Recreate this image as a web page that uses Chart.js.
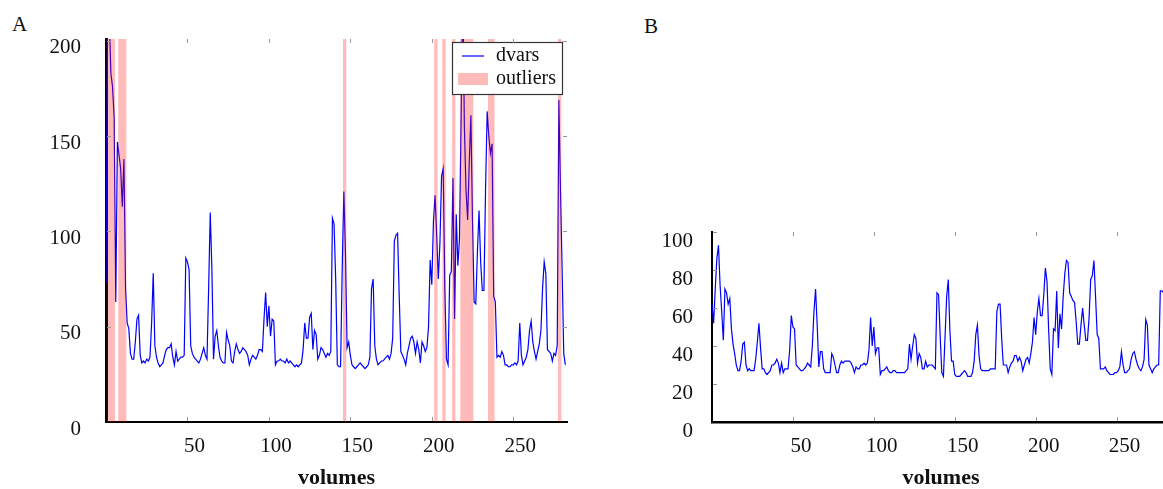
<!DOCTYPE html>
<html>
<head>
<meta charset="utf-8">
<script src="https://cdn.jsdelivr.net/npm/chart.js@4.4.1/dist/chart.umd.min.js"></script>
<style>
  html, body { margin: 0; padding: 0; background: #fff; overflow: hidden; }
  body { width: 1163px; height: 489px; position: relative; }
  .panel-label { position: absolute; font-family: 'Liberation Serif', serif; font-size: 21px; line-height: 1; color: #111; }
  #wrapA { position: absolute; left: 0; top: 0; width: 600px; height: 489px; }
  #wrapB { position: absolute; left: 640px; top: 0; width: 540px; height: 489px; }
</style>
</head>
<body>
<div class="panel-label" style="left:12px; top:14px;">A</div>
<div class="panel-label" style="left:644px; top:16px;">B</div>
<div id="wrapA"><canvas id="chartA"></canvas></div>
<div id="wrapB"><canvas id="chartB"></canvas></div>
<script>
// dvars per volume, panel A (index = volume)
const dvarsA = [
  73, 215, 212, 183, 176, 160, 63, 147, 140, 133,
  113, 138, 70, 52, 49, 36, 33, 33, 42, 54,
  56, 35, 31, 32, 31, 33, 32, 34, 52, 78,
  40, 34, 31, 29, 30, 31, 35, 38, 39, 39,
  41, 34, 30, 37, 32, 33, 34, 34, 35, 86,
  84, 80, 40, 36, 34, 33, 32, 31, 33, 36,
  39, 35, 33, 70, 110, 80, 33, 45, 48, 40,
  34, 32, 31, 31, 47, 43, 40, 32, 31, 37,
  41, 38, 36, 37, 39, 38, 37, 35, 30, 33,
  35, 34, 33, 35, 38, 38, 37, 54, 68, 50,
  61, 45, 54, 53, 30, 32, 32, 33, 32, 32,
  31, 33, 31, 32, 31, 30, 29, 30, 29, 30,
  31, 38, 52, 44, 44, 55, 57, 38, 48, 46,
  33, 35, 39, 38, 36, 34, 36, 35, 37, 107,
  104, 75, 30, 29, 29, 80, 121, 89, 39, 42,
  35, 30, 29, 28, 29, 30, 31, 30, 29, 28,
  29, 30, 34, 70, 75, 40, 33, 30, 31, 32,
  32, 33, 34, 35, 33, 36, 44, 95, 98, 99,
  66, 37, 35, 33, 30, 36, 40, 44, 45, 42,
  36, 42, 38, 31, 42, 40, 37, 39, 50, 85,
  72, 105, 119, 98, 75, 94, 129, 133, 70, 33,
  30, 77, 79, 128, 54, 109, 82, 96, 160, 230,
  155, 122, 106, 136, 161, 105, 63, 62, 89, 111,
  84, 69, 69, 122, 163, 150, 141, 146, 66, 63,
  34, 35, 34, 37, 35, 30, 30, 29, 29, 30,
  30, 31, 30, 32, 52, 35, 30, 32, 34, 38,
  48, 53, 42, 37, 33, 37, 41, 48, 70, 84,
  78, 38, 37, 36, 32, 36, 35, 40, 169, 122,
  80, 36, 30
];

// volumes flagged as outliers in panel A
const outlierVolumes = [1, 2, 3, 4, 5, 8, 9, 10, 11, 12, 146, 147, 202, 203, 207, 208,
  213, 214, 218, 219, 220, 221, 222, 223, 224, 225, 235, 236, 237, 238, 278, 279];

// dvars per volume, panel B
const dvarsB = [
  62, 52, 70, 86, 93, 72, 58, 43, 70, 68,
  62, 65, 49, 41, 36, 30, 27, 27, 32, 41,
  42, 30, 27, 28, 27, 27, 27, 33, 42, 52,
  39, 28, 28, 26, 25, 26, 27, 30, 30, 31,
  33, 31, 26, 31, 26, 28, 28, 28, 38, 56,
  50, 49, 30, 29, 28, 27, 27, 28, 29, 31,
  30, 29, 40, 58, 70, 51, 29, 37, 37, 28,
  26, 26, 26, 26, 36, 34, 30, 26, 26, 30,
  32, 31, 32, 32, 32, 32, 31, 29, 26, 29,
  28, 28, 30, 30, 31, 30, 31, 38, 55, 40,
  50, 36, 39, 39, 25, 27, 27, 28, 29, 27,
  26, 26, 27, 27, 26, 26, 26, 26, 26, 26,
  27, 28, 41, 33, 40, 46, 44, 31, 36, 34,
  28, 28, 32, 29, 30, 30, 30, 29, 28, 68,
  67, 45, 26, 24, 45, 66, 75, 48, 32, 32,
  25, 24, 24, 24, 25, 26, 27, 26, 24, 24,
  24, 26, 32, 46, 51, 35, 28, 27, 27, 27,
  27, 27, 28, 28, 28, 28, 58, 62, 62, 44,
  30, 30, 30, 26, 29, 31, 32, 35, 35, 32,
  34, 32, 27, 30, 33, 34, 31, 36, 42, 55,
  46, 58, 65, 56, 56, 67, 81, 74, 49, 28,
  25, 49, 48, 69, 39, 57, 49, 66, 78, 85,
  84, 68, 66, 64, 63, 53, 41, 41, 51, 60,
  51, 43, 43, 55, 75, 77, 85, 66, 46, 44,
  28, 28, 28, 29, 27, 26, 25, 25, 25, 26,
  26, 27, 29, 37, 30, 26, 26, 27, 28, 33,
  36, 37, 33, 30, 28, 27, 29, 33, 54, 51,
  30, 28, 26, 28, 29, 30, 30, 69, 69, 68,
  66, 60, 55
];

const xTicks = [50, 100, 150, 200, 250];
const yTicksA = [0, 50, 100, 150, 200];
const yTicksB = [0, 20, 40, 60, 80, 100];
const xMax = 283;
const yMaxA = 201;
const yMaxB = 100;

Chart.defaults.font.family = "'Liberation Serif', 'DejaVu Serif', serif";
Chart.defaults.color = '#111';

// small inward tick marks on all four sides
const innerTicks = {
  id: 'innerTicks',
  afterDraw(chart, args, opts) {
    const { ctx, chartArea: { left, right, top, bottom }, scales: { x, y } } = chart;
    const len = 4;
    ctx.save();
    ctx.strokeStyle = '#999';
    ctx.lineWidth = 1;
    ctx.beginPath();
    xTicks.forEach(v => {
      const px = Math.round(x.getPixelForValue(v)) + 0.5;
      ctx.moveTo(px, bottom - 1); ctx.lineTo(px, bottom - 1 - len);
      ctx.moveTo(px, top); ctx.lineTo(px, top + len);
    });
    opts.yValues.forEach(v => {
      if (v === 0) return;
      const py = Math.round(y.getPixelForValue(v)) + 0.5;
      ctx.moveTo(left + 1, py); ctx.lineTo(left + 1 + len, py);
      ctx.moveTo(right, py); ctx.lineTo(right - len, py);
    });
    ctx.stroke();
    ctx.restore();
  }
};

// boxed legend inside the top right corner of panel A
const boxLegend = {
  id: 'boxLegend',
  afterDatasetsDraw(chart) {
    const { ctx, chartArea: { right, top } } = chart;
    const bx = right - 115, by = top + 3, bw = 110, bh = 52;
    ctx.save();
    ctx.fillStyle = '#fff';
    ctx.fillRect(bx, by, bw, bh);
    ctx.strokeStyle = '#333';
    ctx.lineWidth = 1.2;
    ctx.strokeRect(bx + 0.5, by + 0.5, bw, bh);
    ctx.strokeStyle = '#0000ff';
    ctx.lineWidth = 1.2;
    ctx.beginPath();
    ctx.moveTo(bx + 10, by + 14);
    ctx.lineTo(bx + 32, by + 14);
    ctx.stroke();
    ctx.fillStyle = 'rgba(255,0,0,0.27)';
    ctx.fillRect(bx + 6, by + 31, 30, 12);
    ctx.fillStyle = '#111';
    ctx.font = "20px 'Liberation Serif', serif";
    ctx.textBaseline = 'middle';
    ctx.fillText('dvars', bx + 44, by + 14);
    ctx.fillText('outliers', bx + 44, by + 37);
    ctx.restore();
  }
};

function makeScales(yMax, yTicks, yWidth, yPad, yLabelOffset, xLabelOffset, yBorder, xBorder) {
  return {
    x: {
      type: 'linear', min: 0, max: xMax, offset: false,
      afterBuildTicks: s => { s.ticks = xTicks.map(v => ({ value: v })); },
      afterFit: s => { s.height = 67; },
      grid: { display: false, drawTicks: false },
      border: { display: true, color: '#000', width: xBorder },
      ticks: { padding: 12, labelOffset: xLabelOffset, font: { size: 21 }, color: '#111', maxRotation: 0, autoSkip: false },
      title: { display: true, text: 'volumes', color: '#111', padding: 0, font: { size: 22, weight: 'bold', lineHeight: 1 } }
    },
    y: {
      min: 0, max: yMax,
      afterBuildTicks: s => { s.ticks = yTicks.map(v => ({ value: v })); },
      afterFit: s => { s.width = yWidth; },
      grid: { display: false, drawTicks: false },
      border: { display: true, color: '#000', width: yBorder },
      ticks: { padding: yPad, labelOffset: yLabelOffset, font: { size: 21 }, color: '#111', autoSkip: false }
    }
  };
}

// outlier bands: full height at flagged volumes, drawn as one stepped filled area
const outlierBand = dvarsA.map((_, i) => ({ x: i, y: outlierVolumes.includes(i) ? yMaxA : 0 }));

new Chart(document.getElementById('chartA'), {
  type: 'line',
  data: {
    datasets: [
      {
        label: 'dvars', order: 1,
        data: dvarsA.map((v, i) => ({ x: i, y: v })),
        borderColor: '#0000ff', borderWidth: 1.2, pointRadius: 0, tension: 0
      },
      {
        label: 'outliers', order: 0,
        data: outlierBand,
        stepped: 'middle', fill: 'origin',
        backgroundColor: 'rgba(255,0,0,0.27)', borderWidth: 0, pointRadius: 0
      }
    ]
  },
  options: {
    responsive: true, maintainAspectRatio: false, animation: false,
    layout: { padding: { left: 0, right: 33, top: 39, bottom: 0 } },
    plugins: { legend: { display: false }, tooltip: { enabled: false }, innerTicks: { yValues: yTicksA } },
    scales: makeScales(yMaxA, yTicksA, 106, 25, 7, 7, 3, 2)
  },
  plugins: [innerTicks, boxLegend]
});

new Chart(document.getElementById('chartB'), {
  type: 'line',
  data: {
    datasets: [{
      label: 'dvars',
      data: dvarsB.map((v, i) => ({ x: i, y: v })),
      borderColor: '#0000ff', borderWidth: 1.2, pointRadius: 0, tension: 0
    }]
  },
  options: {
    responsive: true, maintainAspectRatio: false, animation: false,
    layout: { padding: { left: 0, right: 10, top: 232, bottom: 0 } },
    plugins: { legend: { display: false }, tooltip: { enabled: false }, innerTicks: { yValues: yTicksB } },
    scales: makeScales(yMaxB, yTicksB, 72, 19, 9, 8, 2, 2.5)
  },
  plugins: [innerTicks]
});
</script>
</body>
</html>
